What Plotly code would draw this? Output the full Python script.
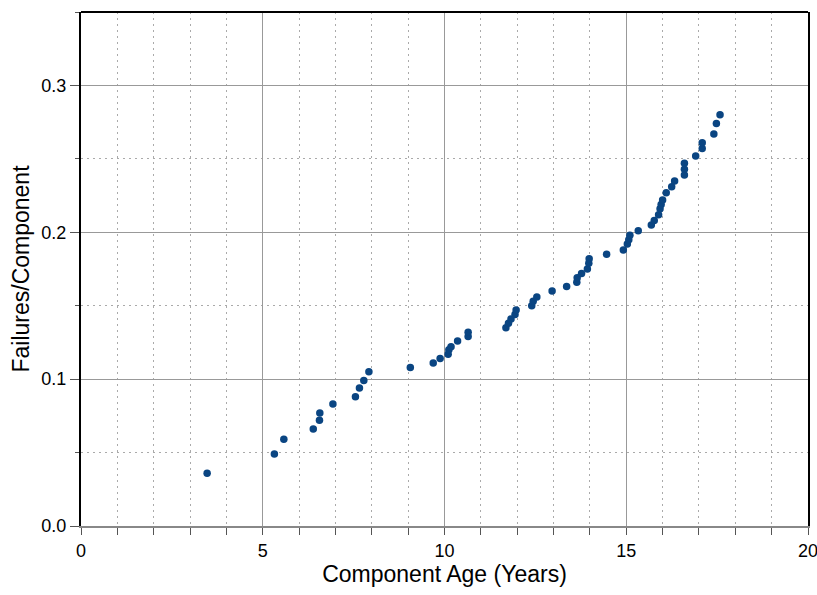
import plotly.graph_objects as go

age_years = [3.47, 5.32, 5.58, 6.39, 6.56, 6.57, 6.93, 7.55, 7.66, 7.78, 7.92,
             9.06, 9.69, 9.88, 10.10, 10.12, 10.18, 10.36, 10.65, 10.65,
             11.69, 11.76, 11.83, 11.94, 11.97, 12.40, 12.44, 12.54, 12.96,
             13.36, 13.64, 13.65, 13.77, 13.93, 13.97, 13.98, 14.46, 14.92,
             15.03, 15.07, 15.10, 15.33, 15.69, 15.77, 15.89, 15.93, 15.96,
             16.00, 16.10, 16.25, 16.33, 16.60, 16.60, 16.60, 16.91, 17.09,
             17.09, 17.41, 17.48, 17.58]
failures_per_component = [0.036, 0.049, 0.059, 0.066, 0.072, 0.077, 0.083, 0.088,
                          0.094, 0.099, 0.105, 0.108, 0.111, 0.114, 0.117, 0.120,
                          0.122, 0.126, 0.129, 0.132, 0.135, 0.138, 0.141, 0.144,
                          0.147, 0.150, 0.153, 0.156, 0.160, 0.163, 0.166, 0.169,
                          0.172, 0.175, 0.179, 0.182, 0.185, 0.188, 0.192, 0.195,
                          0.198, 0.201, 0.205, 0.208, 0.212, 0.216, 0.219, 0.222,
                          0.227, 0.231, 0.235, 0.239, 0.243, 0.247, 0.252, 0.257,
                          0.261, 0.267, 0.274, 0.280]

x_ticks = [0, 5, 10, 15, 20]
y_ticks = [0.0, 0.1, 0.2, 0.3]

fig = go.Figure()
fig.add_trace(go.Scatter(
    x=age_years, y=failures_per_component, mode="markers",
    marker=dict(color="#0a4582", size=7.5, line=dict(width=0)),
    showlegend=False, cliponaxis=False,
))

font = "Liberation Sans, Arial, sans-serif"
dots = "2px,4px"
fig.update_layout(
    width=817, height=595,
    margin=dict(l=81, r=9, t=12, b=69),
    paper_bgcolor="white", plot_bgcolor="white",
    font=dict(family=font, color="black", size=18),
    xaxis=dict(
        range=[0, 20], tickvals=x_ticks, ticktext=[str(v) for v in x_ticks],
        automargin="bottom", ticklabeloverflow="allow",
        showgrid=True, gridcolor="#999999", gridwidth=1,
        showline=True, linecolor="#888888", linewidth=2,
        ticks="outside", ticklen=7, tickcolor="#555555", tickwidth=1,
        minor=dict(dtick=1, tick0=0, showgrid=True, gridcolor="#aaaaaa",
                   griddash=dots, gridwidth=1, ticks="outside", ticklen=7,
                   tickcolor="#555555"),
        zeroline=False,
        title=dict(text="Component Age (Years)", font=dict(size=23), standoff=5),
        tickfont=dict(size=18),
    ),
    yaxis=dict(
        range=[0, 0.35], tickvals=y_ticks, ticktext=[f"{v:.1f}" for v in y_ticks],
        automargin="left",
        showgrid=True, gridcolor="#999999", gridwidth=1,
        showline=True, linecolor="black", linewidth=2, mirror=True,
        ticks="outside", ticklen=9, tickcolor="#555555", tickwidth=1,
        minor=dict(dtick=0.05, tick0=0, showgrid=True, gridcolor="#aaaaaa",
                   griddash=dots, gridwidth=1, ticks="outside", ticklen=4,
                   tickcolor="#555555"),
        zeroline=False,
        title=dict(text="Failures/Component", font=dict(size=23), standoff=5),
        tickfont=dict(size=18),
    ),
    shapes=[dict(type="line", xref="paper", yref="paper", x0=0, x1=1, y0=1, y1=1,
                 line=dict(color="black", width=2))],
)

fig.write_html("out.html")
